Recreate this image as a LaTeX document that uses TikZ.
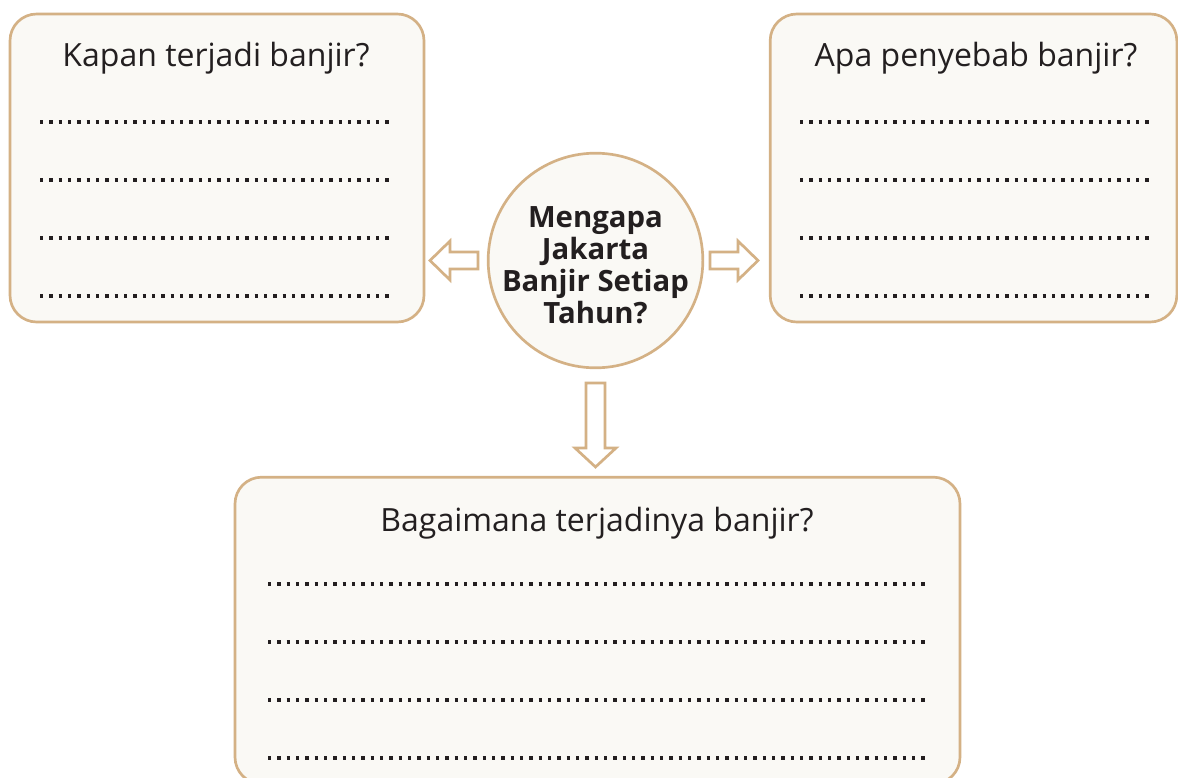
\documentclass[tikz,border=0pt]{standalone}
\usepackage{fontspec}
\setmainfont{Open Sans}
\begin{document}
\begin{tikzpicture}[x=0.75pt,y=-0.75pt,
  every node/.style={text=ink},
  boxnode/.style={draw=tan, line width=2pt, fill=paper, rounded corners=20pt, inner sep=0pt},
  titletext/.style={anchor=base, font=\fontsize{24}{28}\selectfont},
  dotline/.style={ink, line width=2.5pt, dash pattern=on 2.6pt off 4.4pt},
  hollow/.style={draw=tan, line width=2pt, fill=white, line join=miter}]
\definecolor{tan}{HTML}{D4B185}
\definecolor{paper}{HTML}{FAF9F5}
\definecolor{ink}{HTML}{231F20}
\useasboundingbox (0,0) rectangle (1178,778);
\fill[white] (0,0) rectangle (1178,778);

% boxes
\node[boxnode, minimum width=310.5pt, minimum height=231pt] (lbox) at (217,168) {};
\node[boxnode, minimum width=305pt, minimum height=231pt] (rbox) at (973.5,168) {};
\node[boxnode, minimum width=543.75pt, minimum height=230pt] (bbox) at (597.5,630.5) {};

% titles
\node[titletext] (ltitle) at (216,66) {Kapan terjadi banjir?};
\node[titletext] (rtitle) at (976,66) {Apa penyebab banjir?};
\node[titletext] (btitle) at (597,531) {Bagaimana terjadinya banjir?};

% dotted answer lines
\foreach \y in {122,180,238,296}{
  \draw[dotline] (40,\y) -- (393,\y);
  \draw[dotline] (800,\y) -- (1153,\y);
}
\foreach \y in {584,642,700,758}{
  \draw[dotline] (268,\y) -- (926,\y);
}

% centre circle
\node[circle, draw=tan, line width=2pt, fill=paper, minimum size=161pt, inner sep=0pt] (core) at (595.5,260.5) {};
\node[align=center, font=\bfseries\fontsize{22}{24}\selectfont] (coretext) at (595.5,265)
  {Mengapa\\Jakarta\\Banjir Setiap\\Tahun?};

% hollow arrows
\draw[hollow] (430,260.5) -- (450,241) -- (450,252) -- (478,252) -- (478,269) -- (450,269) -- (450,280) -- cycle;
\draw[hollow] (758,260.5) -- (738,241) -- (738,252) -- (710,252) -- (710,269) -- (738,269) -- (738,280) -- cycle;
\draw[hollow] (595.5,467) -- (575,448) -- (586,448) -- (586,383) -- (605,383) -- (605,448) -- (616,448) -- cycle;
\end{tikzpicture}
\end{document}
